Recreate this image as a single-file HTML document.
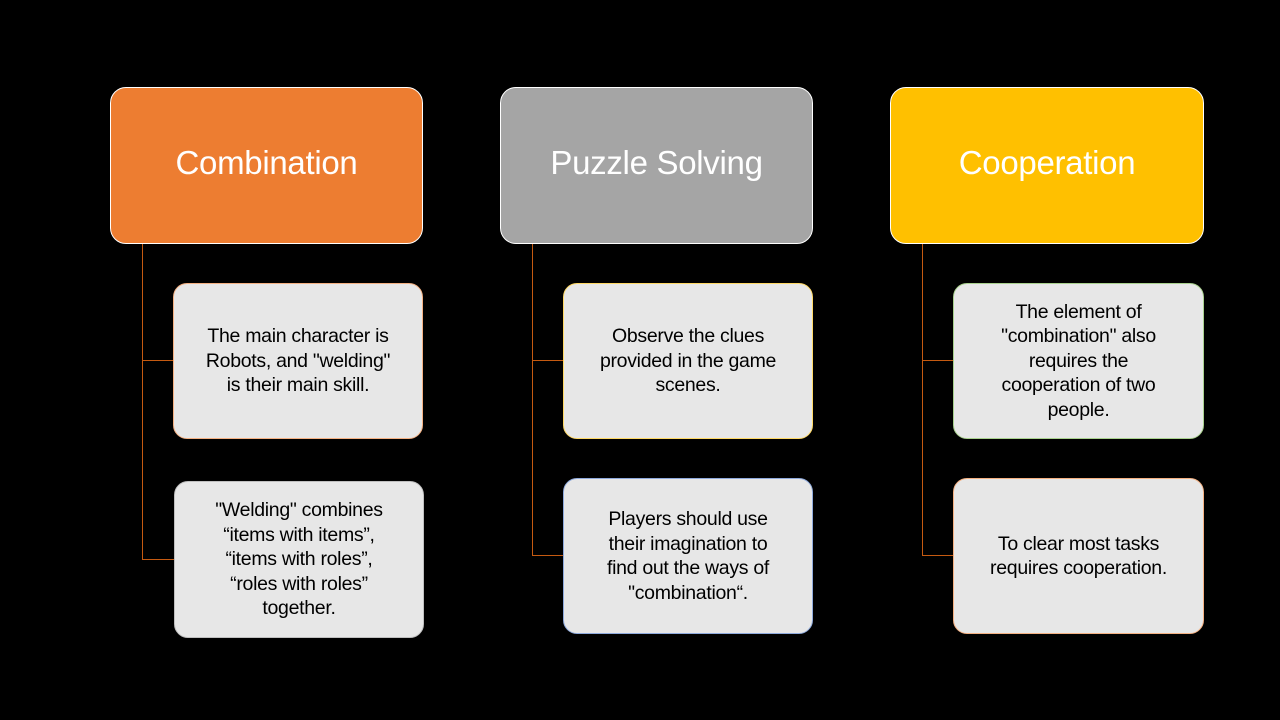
<!DOCTYPE html>
<html><head><meta charset="utf-8"><style>
body{margin:0;width:1280px;height:720px;background:#000;position:relative;overflow:hidden;font-family:"Liberation Sans",sans-serif}
.b{position:absolute;box-sizing:border-box;display:flex;align-items:center;justify-content:center;text-align:center;border-radius:16px}
.h{color:#fff;font-size:33px;border:1.5px solid #fff;letter-spacing:-0.3px;padding-bottom:6px}
.c{background:#e7e7e7;color:#000;font-size:19.5px;line-height:24.5px;letter-spacing:-0.3px;border-radius:14px}
.l{position:absolute;background:#c55a11}
</style></head><body>
<div class="b h" style="left:110px;top:87px;width:313px;height:157px;background:#ed7d31">Combination</div>
<div class="b h" style="left:500px;top:87px;width:313px;height:157px;background:#a5a5a5">Puzzle Solving</div>
<div class="b h" style="left:890px;top:87px;width:314px;height:157px;background:#ffc000">Cooperation</div>

<div class="l" style="left:142px;top:244px;width:1px;height:316px"></div>
<div class="l" style="left:142px;top:360px;width:31px;height:1px"></div>
<div class="l" style="left:142px;top:559px;width:32px;height:1px"></div>
<div class="l" style="left:532px;top:244px;width:1px;height:312px"></div>
<div class="l" style="left:532px;top:360px;width:31px;height:1px"></div>
<div class="l" style="left:532px;top:555px;width:31px;height:1px"></div>
<div class="l" style="left:922px;top:244px;width:1px;height:312px"></div>
<div class="l" style="left:922px;top:360px;width:31px;height:1px"></div>
<div class="l" style="left:922px;top:555px;width:31px;height:1px"></div>

<div class="b c" style="left:173px;top:283px;width:250px;height:156px;border:1px solid #f4b183">The main character is<br>Robots, and "welding"<br>is their main skill.</div>
<div class="b c" style="left:174px;top:481px;width:250px;height:157px;border:1px solid #bfbfbf">"Welding" combines<br>“items with items”,<br>“items with roles”,<br>“roles with roles”<br>together.</div>
<div class="b c" style="left:563px;top:283px;width:250px;height:156px;border:1px solid #ffd966">Observe the clues<br>provided in the game<br>scenes.</div>
<div class="b c" style="left:563px;top:478px;width:250px;height:156px;border:1px solid #8faadc">Players should use<br>their imagination to<br>find out the ways of<br>"combination“.</div>
<div class="b c" style="left:953px;top:283px;width:251px;height:156px;border:1px solid #a9d18e">The element of<br>"combination" also<br>requires the<br>cooperation of two<br>people.</div>
<div class="b c" style="left:953px;top:478px;width:251px;height:156px;border:1px solid #f4b183">To clear most tasks<br>requires cooperation.</div>
</body></html>
